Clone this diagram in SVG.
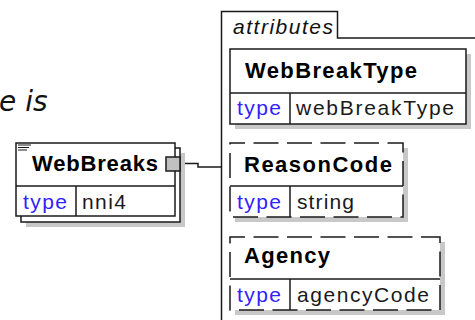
<svg xmlns="http://www.w3.org/2000/svg" width="475" height="320" viewBox="0 0 475 320">
<style>
.bg{fill:#ffffff}
.box{fill:#ffffff;stroke:#1a1a1a;stroke-width:1.5}
.dash{fill:#ffffff;stroke:#1a1a1a;stroke-width:1.5;stroke-dasharray:25 8.5;stroke-dashoffset:10}
.sh{fill:#c8c8c8}
.ln{stroke:#1a1a1a;stroke-width:1.5;fill:none}
.title{font-family:"Liberation Sans",Arial,sans-serif;font-weight:bold;font-size:22px;fill:#000}
.kw{font-family:"Liberation Sans",Arial,sans-serif;font-size:21px;fill:#3320ff}
.val{font-family:"Liberation Sans",Arial,sans-serif;font-size:21px;fill:#1a1a1a}
.cap{font-family:"Liberation Sans",Arial,sans-serif;font-style:italic;font-size:21px;fill:#111}
.big{font-family:"DejaVu Sans",sans-serif;font-style:italic;font-size:28px;fill:#111}
</style>
<rect class="bg" x="0" y="0" width="475" height="320"/>
<text class="big" x="-1" y="111">e is</text>

<g id="attributes-frame">
<path class="ln" d="M221.5,320 V11.5 H337.5 V38 H475"/>
<text class="cap" x="233" y="34" textLength="100" lengthAdjust="spacing">attributes</text>
</g>

<g id="connectors">
<path class="ln" d="M181,163.5 H198 V167 H221.5"/>
</g>

<g id="WebBreaks">
<rect class="sh" x="26" y="153" width="159" height="74"/>
<rect class="box" x="21" y="148" width="159" height="74"/>
<rect class="box" x="16" y="143" width="159" height="73"/>
<line class="ln" x1="16" y1="186" x2="175" y2="186"/>
<line class="ln" x1="76" y1="186" x2="76" y2="216"/>
<path class="ln" d="M18,145 H31 M18,147.5 H29 M18,150 H27" style="stroke-width:1"/>
<text class="title" x="32" y="171" textLength="126" lengthAdjust="spacing">WebBreaks</text>
<text class="kw" x="23" y="209" textLength="44" lengthAdjust="spacing">type</text>
<text class="val" x="82" y="209" textLength="44" lengthAdjust="spacing">nni4</text>
<rect x="166" y="157" width="14" height="14" fill="#c0c0c0" stroke="#1a1a1a" stroke-width="1.5"/>
</g>

<g id="WebBreakType">
<rect class="sh" x="235" y="54" width="236" height="75"/>
<rect class="box" x="230" y="49" width="236" height="75"/>
<line class="ln" x1="230" y1="93" x2="466" y2="93"/>
<line class="ln" x1="290" y1="93" x2="290" y2="124"/>
<text class="title" x="245" y="78" textLength="172" lengthAdjust="spacing">WebBreakType</text>
<text class="kw" x="237" y="115" textLength="44" lengthAdjust="spacing">type</text>
<text class="val" x="296" y="115" textLength="158" lengthAdjust="spacing">webBreakType</text>
</g>

<g id="ReasonCode">
<rect class="sh" x="235" y="148" width="173" height="74"/>
<rect class="dash" x="230" y="143" width="173" height="74"/>
<line class="ln" x1="230" y1="186" x2="403" y2="186"/>
<line class="ln" x1="290" y1="186" x2="290" y2="217"/>
<text class="title" x="244" y="172" textLength="148" lengthAdjust="spacing">ReasonCode</text>
<text class="kw" x="237" y="209" textLength="44" lengthAdjust="spacing">type</text>
<text class="val" x="297" y="209" textLength="57" lengthAdjust="spacing">string</text>
</g>

<g id="Agency">
<rect class="sh" x="235" y="242" width="210" height="73"/>
<rect class="dash" x="230" y="237" width="210" height="73"/>
<line class="ln" x1="230" y1="279" x2="440" y2="279"/>
<line class="ln" x1="290" y1="279" x2="290" y2="310"/>
<text class="title" x="244" y="263" textLength="86" lengthAdjust="spacing">Agency</text>
<text class="kw" x="237" y="302" textLength="44" lengthAdjust="spacing">type</text>
<text class="val" x="297" y="302" textLength="132" lengthAdjust="spacing">agencyCode</text>
</g>
</svg>
